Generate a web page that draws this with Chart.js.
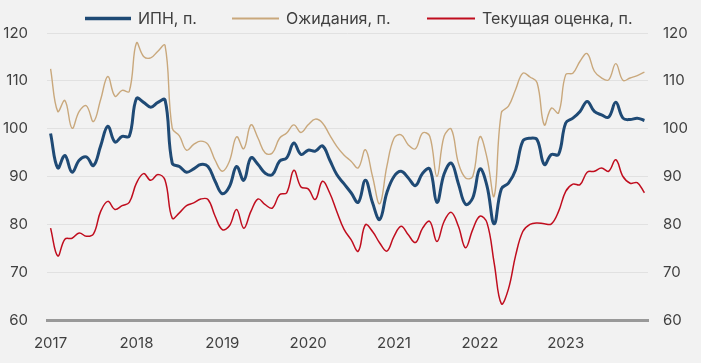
<!DOCTYPE html>
<html>
<head>
<meta charset="utf-8">
<script src="https://cdn.jsdelivr.net/npm/chart.js@4.4.0/dist/chart.umd.min.js"></script>
<style>
  html, body { margin: 0; padding: 0; background: #f2f2f2; }
  #wrap { width: 701px; height: 363px; position: relative; }
</style>
</head>
<body>
<div id="wrap"><canvas id="c"></canvas></div>
<script>
// ---- data ----
const years = ['2017', '2018', '2019', '2020', '2021', '2022', '2023'];
const yTicks = [60, 70, 80, 90, 100, 110, 120];
const seriesNames = ['ИПН, п.', 'Ожидания, п.', 'Текущая оценка, п.'];

const ipn = [99.0, 91.8, 94.4, 90.9, 93.4, 94.1, 92.3, 96.4, 100.5, 97.2, 98.4, 98.4,
  106.3, 105.5, 104.5, 105.5, 106.0, 92.8, 92.1, 90.9, 91.6, 92.5, 92.1, 89.0,
  86.4, 87.9, 92.1, 89.2, 93.9, 92.5, 90.7, 90.4, 93.2, 93.9, 97.0, 94.6,
  95.5, 95.3, 96.4, 93.5, 90.4, 88.5, 86.6, 84.6, 89.2, 84.5, 81.0, 86.6,
  90.0, 91.1, 89.7, 88.1, 90.7, 91.6, 84.6, 90.5, 92.8, 88.5, 84.2, 85.5,
  91.6, 88.0, 80.1, 87.4, 88.6, 91.4, 97.4, 98.0, 97.7, 92.5, 94.6, 94.6,
  101.2, 102.2, 103.6, 105.7, 103.6, 102.9, 102.4, 105.5, 102.2, 101.9, 102.2, 101.7];

const expectations = [112.5, 103.6, 105.9, 100.1, 103.6, 104.8, 101.5, 106.1, 110.9, 106.8, 108.0, 107.8,
  117.9, 115.1, 114.8, 116.2, 117.4, 100.1, 98.5, 95.5, 96.7, 97.4, 96.7, 93.4,
  91.1, 93.2, 98.3, 95.8, 100.8, 98.0, 94.9, 94.9, 98.0, 99.1, 100.8, 99.2,
  100.8, 102.0, 101.2, 98.7, 96.3, 94.5, 93.2, 91.8, 95.6, 90.0, 84.3, 92.1,
  98.0, 98.7, 96.6, 95.8, 99.1, 98.4, 90.0, 98.4, 99.9, 92.8, 89.7, 90.0,
  98.3, 93.9, 85.9, 103.3, 104.7, 108.2, 111.6, 110.8, 109.6, 100.8, 104.3, 103.3,
  111.3, 111.6, 114.1, 115.7, 112.0, 110.6, 110.2, 113.6, 110.1, 110.6, 111.1, 111.8];

const current = [79.2, 73.4, 76.9, 77.1, 78.2, 77.5, 78.0, 82.7, 84.8, 83.1, 83.9, 84.6,
  88.6, 90.6, 89.2, 90.4, 89.2, 81.3, 82.4, 83.9, 84.5, 85.3, 85.2, 81.7,
  78.9, 79.7, 83.1, 79.2, 82.7, 85.3, 84.1, 83.4, 86.2, 86.6, 91.3, 87.8,
  87.4, 85.2, 89.0, 86.6, 82.7, 79.0, 76.8, 74.4, 79.9, 78.5, 76.1, 74.4,
  77.5, 79.6, 77.8, 76.2, 79.2, 80.6, 76.4, 80.6, 82.5, 79.6, 75.1, 78.9,
  81.7, 80.3, 71.9, 63.4, 66.5, 73.5, 78.5, 80.0, 80.3, 80.1, 80.1, 82.7,
  86.9, 88.4, 88.3, 90.9, 91.1, 91.8, 91.1, 93.5, 90.0, 88.6, 88.7, 86.6];

// monthly category labels built from the years
const categories = [];
years.forEach(y => { for (let m = 1; m <= 12; m++) categories.push(y + '-' + String(m).padStart(2, '0')); });

const colors = ['#1f4a75', '#c9a87c', '#c00d1e'];
const widths = [3, 1.4, 1.5];
const FONT = 'Inter, "Noto Sans", sans-serif';
const TXT = '#404040';

const bgPlugin = {
  id: 'bg',
  beforeDraw(chart) {
    const ctx = chart.ctx;
    ctx.save();
    ctx.fillStyle = '#f2f2f2';
    ctx.fillRect(0, 0, chart.width, chart.height);
    ctx.restore();
  }
};

const legendPlugin = {
  id: 'lineLegend',
  afterDraw(chart) {
    const ctx = chart.ctx;
    const starts = [85, 232, 427];
    const lens = [46, 47, 48];
    chart.data.datasets.forEach((ds, i) => {
      const x = starts[i], y = 18.5;
      ctx.save();
      ctx.strokeStyle = ds.borderColor;
      ctx.lineWidth = i === 0 ? 3.5 : 2;
      ctx.beginPath();
      ctx.moveTo(x, y);
      ctx.lineTo(x + lens[i], y);
      ctx.stroke();
      ctx.fillStyle = TXT;
      ctx.font = '16px ' + FONT;
      ctx.textBaseline = 'middle';
      ctx.textAlign = 'left';
      ctx.fillText(ds.label, x + lens[i] + 7, y + 0.5);
      ctx.restore();
    });
  }
};

const datasets = [ipn, expectations, current].map((d, i) => ({
  label: seriesNames[i],
  data: d,
  borderColor: colors[i],
  borderWidth: widths[i],
  pointRadius: 0,
  tension: 0.4,
  fill: false,
  yAxisID: 'y',
  order: 3 - i
}));

new Chart(document.getElementById('c'), {
  type: 'line',
  data: { labels: categories, datasets },
  plugins: [bgPlugin, legendPlugin],
  options: {
    responsive: true,
    maintainAspectRatio: false,
    animation: false,
    layout: { padding: { top: 33, left: 0, right: 0, bottom: 0 } },
    plugins: { legend: { display: false }, tooltip: { enabled: false } },
    scales: {
      x: {
        type: 'category',
        offset: true,
        grid: { display: false, drawTicks: false },
        border: { display: true, color: '#999999', width: 3 },
        ticks: {
          autoSkip: false, maxRotation: 0, minRotation: 0, padding: 14,
          color: TXT, font: { size: 15, family: FONT },
          callback: function (v, idx) { return idx % 12 === 0 ? categories[idx].slice(0, 4) : ''; }
        },
        afterFit(s) { s.height = 43; }
      },
      y: {
        position: 'left',
        min: 60, max: 120,
        afterBuildTicks(s) { s.ticks = yTicks.map(v => ({ value: v })); },
        grid: {
          drawTicks: false,
          color: ctx => (ctx.tick && ctx.tick.value === 60) ? 'rgba(0,0,0,0)' : '#e1e1e1',
          lineWidth: 1
        },
        border: { display: false },
        ticks: { padding: 19, color: TXT, font: { size: 15, family: FONT } },
        afterFit(s) { s.width = 47; }
      },
      y2: {
        position: 'right',
        min: 60, max: 120,
        afterBuildTicks(s) { s.ticks = yTicks.map(v => ({ value: v })); },
        grid: { display: false, drawTicks: false },
        border: { display: false },
        ticks: { padding: 15, color: TXT, font: { size: 15, family: FONT } },
        afterFit(s) { s.width = 53; }
      }
    }
  }
});
</script>
</body>
</html>
